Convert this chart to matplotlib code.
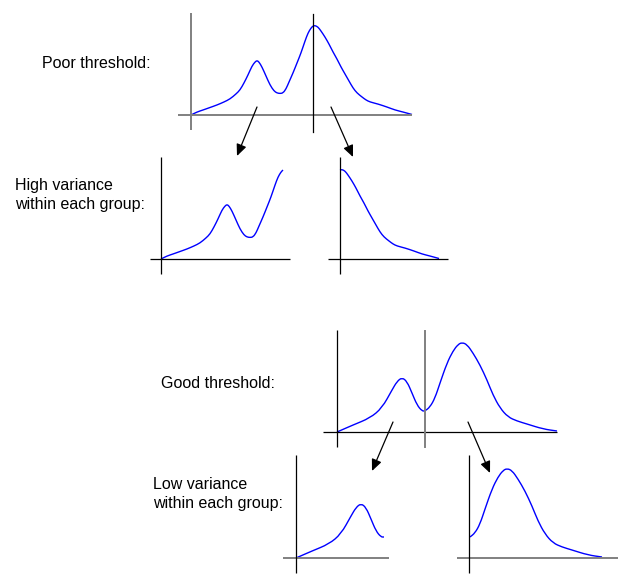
import matplotlib
matplotlib.use("Agg")
import matplotlib.pyplot as plt
from matplotlib.path import Path
from matplotlib.patches import PathPatch
import numpy as np

# ---- data: two bimodal histograms (x offset from origin, height), in diagram units ----
poor_x = [0, 6, 12, 19, 26, 33, 39, 45, 49, 53, 57, 61, 64, 66, 68, 71, 75, 79, 83, 86,
          89, 92, 95, 98, 102, 106, 110, 114, 117, 120, 122, 124, 127, 130, 134, 138,
          142, 146, 150, 154, 158, 162, 166, 171, 175, 179, 187, 196, 204, 212, 221]
poor_h = [0, 3, 5, 7.5, 10, 13, 16, 21, 25, 32, 40, 49, 53, 54.5, 53, 48, 39, 30, 24, 22,
          21.5, 22, 26, 33, 42, 52, 62, 74, 82, 87, 89, 89.5, 88, 84, 78, 71,
          63, 56, 48, 41, 34, 27, 22, 18, 15, 13, 11, 8, 5, 3, 0.5]
poor_threshold = 122

good_x = [0, 16, 33, 45, 55, 60, 65, 70, 75, 80, 85, 88, 93, 98, 103, 110, 116, 121, 125,
          130, 136, 143, 150, 156, 163, 171, 180, 190, 206, 220]
good_h = [0, 7, 14, 24, 42, 50.5, 54.5, 50.5, 39, 27, 21, 21, 25, 34, 49, 69, 81, 87.5, 89.5,
          87.5, 79, 67, 52, 37, 24, 15, 11, 8, 3, 1]
good_threshold = 88

labels = {
    "poor": "Poor threshold:",
    "high": "High variance\nwithin each group:",
    "good": "Good threshold:",
    "low": "Low variance\nwithin each group:",
}

BLUE = "#0000ff"
GRAY = "#808080"

fig = plt.figure(figsize=(6.21, 5.79), dpi=100)
ax = fig.add_axes([0, 0, 1, 1])
ax.set_xlim(0, 621)
ax.set_ylim(579, 0)
ax.axis("off")


def axes_lines(ox, oy, left, right, top, bottom, xcol="black", ycol="black"):
    xw = 1.4 if xcol == GRAY else 0.9
    yw = 1.4 if ycol == GRAY else 0.9
    ax.plot([ox - left, ox + right], [oy, oy], color=xcol, lw=xw, solid_capstyle="butt")
    ax.plot([ox, ox], [oy - top, oy + bottom], color=ycol, lw=yw, solid_capstyle="butt")


def curve(ox, oy, xs, hs, shift=0):
    px = np.array(xs, dtype=float) + ox - shift
    py = oy - np.array(hs, dtype=float)
    pts = np.column_stack([px, py])
    verts = [pts[0], (pts[0] + pts[1]) / 2]
    codes = [Path.MOVETO, Path.LINETO]
    for i in range(1, len(pts) - 1):
        verts += [pts[i], (pts[i] + pts[i + 1]) / 2]
        codes += [Path.CURVE3, Path.CURVE3]
    verts.append(pts[-1])
    codes.append(Path.LINETO)
    ax.add_patch(PathPatch(Path(verts, codes), facecolor="none", edgecolor=BLUE,
                           lw=1.0, joinstyle="round"))


def split(xs, hs, t):
    left = [(x, h) for x, h in zip(xs, hs) if x <= t]
    right = [(x, h) for x, h in zip(xs, hs) if x >= t]
    return list(zip(*left)), list(zip(*right))


def arrow(x0, y0, x1, y1):
    ax.annotate("", xy=(x1, y1), xytext=(x0, y0),
                arrowprops=dict(arrowstyle="-|>,head_length=0.5,head_width=0.22",
                                color="black", lw=0.9, mutation_scale=14,
                                shrinkA=0, shrinkB=0))


font = dict(family="Liberation Sans", fontsize=11.5, color="black")

# ---------- top: poor threshold ----------
ox, oy = 191, 115
axes_lines(ox, oy, 13, 221, 102, 15, xcol=GRAY, ycol=GRAY)
curve(ox, oy, poor_x, poor_h)
ax.plot([ox + poor_threshold] * 2, [14, 132], color="black", lw=0.9)
ax.text(151, 64, labels["poor"], ha="right", va="center", **font)

(lx, lh), (rx, rh) = split(poor_x, poor_h, poor_threshold)
# left sub-plot
sox, soy = 161, 259
axes_lines(sox, soy, 11, 129, 102, 15)
curve(sox, soy, lx, lh)
# right sub-plot
rox, roy = 340, 259
axes_lines(rox, roy, 12, 108, 102, 15)
curve(rox, roy, rx, rh, shift=poor_threshold)
ax.text(15, 195, labels["high"], ha="left", va="center", linespacing=1.3, **font)

arrow(257, 107, 237, 156)
arrow(331, 107, 353, 157)

# ---------- bottom: good threshold ----------
ox, oy = 337, 432
axes_lines(ox, oy, 14, 220, 102, 15)
curve(ox, oy, good_x, good_h)
ax.plot([ox + good_threshold] * 2, [331, 447], color=GRAY, lw=1.4)
ax.text(161, 383, labels["good"], ha="left", va="center", **font)

(lx, lh), (rx, rh) = split(good_x, good_h, good_threshold)
sox, soy = 296, 558
axes_lines(sox, soy, 13, 93, 103, 15, xcol=GRAY)
curve(sox, soy, lx, lh)
rox, roy = 469, 558
axes_lines(rox, roy, 12, 149, 103, 15, xcol=GRAY)
curve(rox + 1, roy, rx, rh, shift=good_threshold)
ax.text(153, 494, labels["low"], ha="left", va="center", linespacing=1.3, **font)

arrow(393, 422, 372, 471)
arrow(468, 422, 490, 473)

fig.savefig("out.png", dpi=100)
